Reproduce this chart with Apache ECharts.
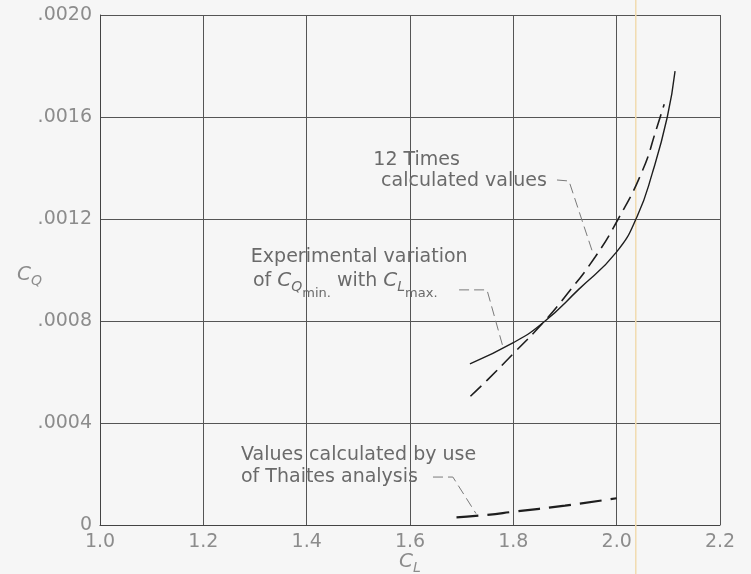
<!DOCTYPE html>
<html>
<head>
<meta charset="utf-8">
<script src="https://cdn.jsdelivr.net/npm/echarts@6/dist/echarts.min.js"></script>
<style>
  html, body { margin: 0; padding: 0; background: #f6f6f6; }
  #chart { width: 751px; height: 574px; }
</style>
</head>
<body>
<div id="chart"></div>
<script>
// Axis ranges: lift coefficient C_L against flow coefficient C_Q
const xTicks = [1.0, 1.2, 1.4, 1.6, 1.8, 2.0, 2.2];
const yTicks = [0, 0.0004, 0.0008, 0.0012, 0.0016, 0.0020];

// Experimental variation of C_Q min. with C_L max. (solid curve)
const expCL = [1.716, 1.80, 1.858, 1.927, 2.00, 2.04, 2.069, 2.098, 2.113];
const expCQ = [0.000632, 0.000715, 0.000794, 0.000925, 0.001071, 0.001212, 0.00138, 0.00160, 0.00178];

// 12 times calculated values (long-dash curve)
const calcCL = [1.717, 1.75, 1.80, 1.858, 1.90, 1.958, 2.003, 2.05, 2.078, 2.092];
const calcCQ = [0.000505, 0.000569, 0.000672, 0.000794, 0.000895, 0.00105, 0.00120, 0.00139, 0.00156, 0.00165];

// Values calculated by use of Thaites analysis (dashed curve)
const thwCL = [1.69, 1.75, 1.80, 1.90, 2.00];
const thwCQ = [0.00003, 0.00004, 0.000052, 0.000076, 0.000105];

// Leader lines from the notes to their curves
const leadExpCL = [1.695, 1.749, 1.780];
const leadExpCQ = [0.000922, 0.000922, 0.000698];
const leadCalcCL = [1.8845, 1.9077, 1.955];
const leadCalcCQ = [0.001353, 0.001349, 0.00106];
const leadThwCL = [1.6445, 1.683, 1.7277];
const leadThwCQ = [0.000188, 0.000188, 0.000045];

const FONT = "'DejaVu Sans', sans-serif";
const INK = '#6a6a6a';
const TICK = '#8c8c8c';

const zip = (xs, ys) => xs.map((x, i) => [x, ys[i]]);

const curve = (name, xs, ys, type, width) => ({
  name, type: 'line', data: zip(xs, ys), showSymbol: false, smooth: 0.5,
  silent: true, z: 3,
  lineStyle: { color: '#1e1e1e', width, type }
});
const leader = (xs, ys) => ({
  type: 'line', data: zip(xs, ys), showSymbol: false, silent: true, z: 2,
  lineStyle: { color: '#7a7a7a', width: 1, type: [10, 5] }
});

const chart = echarts.init(document.getElementById('chart'), null, { renderer: 'canvas' });

chart.setOption({
  backgroundColor: '#f6f6f6',
  animation: false,
  grid: { left: 100, right: 31, top: 15, bottom: 49, outerBoundsMode: 'none', containLabel: false },
  xAxis: {
    type: 'value', min: xTicks[0], max: xTicks[xTicks.length - 1], interval: 0.2,
    axisLine: { lineStyle: { color: '#444', width: 1 } },
    axisTick: { show: false },
    splitLine: { lineStyle: { color: '#555', width: 1 } },
    axisLabel: { margin: 8, fontFamily: FONT, fontSize: 19, color: TICK, formatter: v => v.toFixed(1) }
  },
  yAxis: {
    type: 'value', min: yTicks[0], max: yTicks[yTicks.length - 1], interval: 0.0004,
    axisLine: { lineStyle: { color: '#444', width: 1 } },
    axisTick: { show: false },
    splitLine: { lineStyle: { color: '#555', width: 1 } },
    axisLabel: {
      margin: 8, fontFamily: FONT, fontSize: 19, color: TICK,
      formatter: v => v === 0 ? '0' : v.toFixed(4).replace(/^0/, '')
    }
  },
  series: [
    curve('Experimental', expCL, expCQ, 'solid', 1.4),
    curve('12 times calculated', calcCL, calcCQ, [15, 7], 1.6),
    curve('Thaites analysis', thwCL, thwCQ, [22, 9], 2.2),
    leader(leadExpCL, leadExpCQ),
    leader(leadCalcCL, leadCalcCQ),
    leader(leadThwCL, leadThwCQ)
  ]
});

// Notes beside the curves, anchored in data units
const rich = {
  n: { fontFamily: FONT, fontSize: 19, fill: INK },
  c: { fontFamily: FONT, fontSize: 20, fontStyle: 'italic', fill: INK },
  s: { fontFamily: FONT, fontSize: 14, fontStyle: 'italic', fill: INK, padding: [12, 0, 0, 0] },
  ss: { fontFamily: FONT, fontSize: 13, fill: INK, padding: [26, 0, 0, 0] }
};
const notes = [
  { text: '{n|Experimental variation}', cl: 1.292, cq: 0.001051, align: 'left' },
  { text: '{n|of }{c|C}{s|Q}{ss|min.}{n| with }{c|C}{s|L}{ss|max.}', cl: 1.296, cq: 0.000957, align: 'left' },
  { text: '{n|12 Times}', cl: 1.6967, cq: 0.001431, align: 'right' },
  { text: '{n|calculated values}', cl: 1.865, cq: 0.001349, align: 'right' },
  { text: '{n|Values calculated by use}', cl: 1.2729, cq: 0.000275, align: 'left' },
  { text: '{n|of Thaites analysis}', cl: 1.2729, cq: 0.000188, align: 'left' }
];

const px = (cl, cq) => chart.convertToPixel({ gridIndex: 0 }, [cl, cq]);
const graphics = notes.map(nt => {
  const p = px(nt.cl, nt.cq);
  return {
    type: 'text', x: p[0], y: p[1], silent: true, z: 5,
    style: { text: nt.text, rich, fontFamily: FONT, fontSize: 19, fill: INK, align: nt.align, verticalAlign: 'middle' }
  };
});

// Axis titles: C_Q beside the value labels, C_L under the middle of the x axis
const titleRich = {
  c: { fontFamily: FONT, fontSize: 20, fontStyle: 'italic', fill: TICK },
  s: { fontFamily: FONT, fontSize: 14, fontStyle: 'italic', fill: TICK, padding: [12, 0, 0, 0] }
};
const yTitle = px(xTicks[0], 0.00098);
graphics.push({
  type: 'text', x: yTitle[0] - 83, y: yTitle[1], silent: true,
  style: { text: '{c|C}{s|Q}', align: 'left', verticalAlign: 'middle', rich: titleRich }
});
const xTitle = px((xTicks[0] + xTicks[xTicks.length - 1]) / 2, 0);
graphics.push({
  type: 'text', x: xTitle[0], y: xTitle[1] + 37, silent: true,
  style: { text: '{c|C}{s|L}', align: 'center', verticalAlign: 'middle', rich: titleRich }
});

// faint vertical streak crossing the sheet near C_L = 2.037
const sx = px(2.037, 0)[0];
graphics.push({
  type: 'line', silent: true, z: 1,
  shape: { x1: sx, y1: 0, x2: sx, y2: 574 },
  style: { stroke: '#f1dbb0', lineWidth: 1.5 }
});
chart.setOption({ graphic: graphics });
</script>
</body>
</html>
